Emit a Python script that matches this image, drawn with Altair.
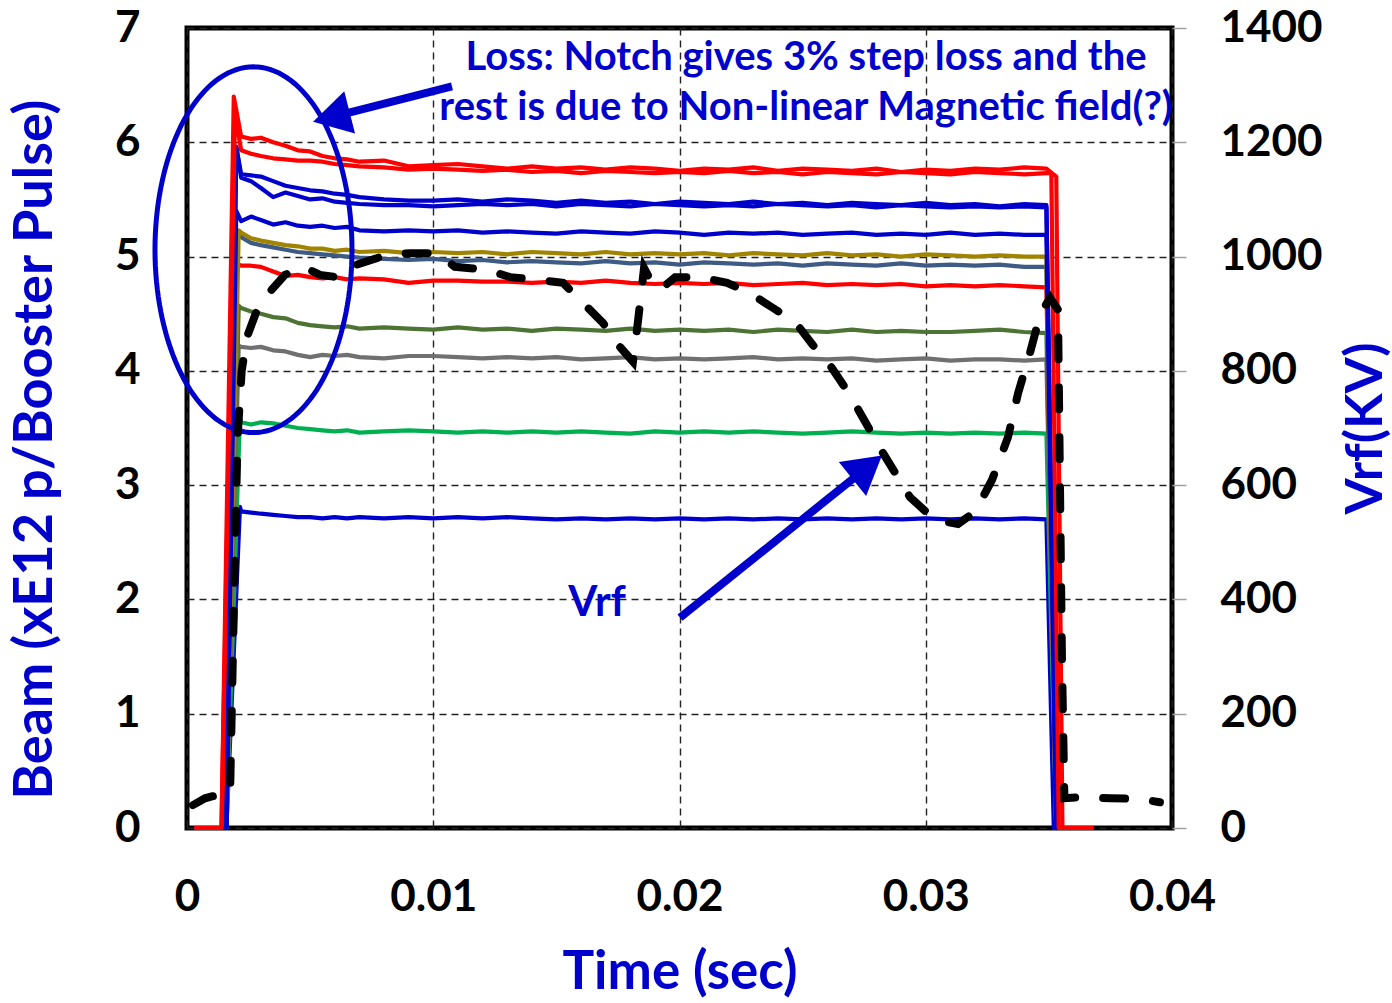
import math
import numpy as np
import pandas as pd
import altair as alt

# ---------------------------------------------------------------- data
T_DOMAIN = [0, 0.04]
BEAM_DOMAIN = [0, 7]
VRF_DOMAIN = [0, 1400]

T_TICKS = [0, 0.01, 0.02, 0.03, 0.04]
BEAM_TICKS = [0, 1, 2, 3, 4, 5, 6, 7]
VRF_TICKS = [0, 200, 400, 600, 800, 1000, 1200, 1400]

# common sample times along the flat top of the beam traces (sec)
T_FLAT = [0.0022, 0.0026, 0.003, 0.0035, 0.004, 0.0045, 0.005, 0.0055, 0.006, 0.0065, 0.007,
          0.008, 0.009, 0.010, 0.011, 0.012, 0.013, 0.014, 0.015, 0.016, 0.017, 0.018, 0.019,
          0.020, 0.021, 0.022, 0.023, 0.024, 0.025, 0.026, 0.027, 0.028, 0.029, 0.030, 0.031,
          0.032, 0.033, 0.034, 0.0349]

# beam intensity on the flat top (xE12 p / Booster pulse)
FLAT_RED_A = [6.05, 6.03, 6.04, 6.00, 5.97, 5.93, 5.92, 5.88, 5.86, 5.85, 5.83,
              5.84, 5.79, 5.80, 5.81, 5.79, 5.77, 5.79, 5.77, 5.78, 5.76, 5.78, 5.77, 5.75, 5.77,
              5.76, 5.78, 5.75, 5.77, 5.76, 5.75, 5.77, 5.74, 5.76, 5.75, 5.77, 5.76, 5.78, 5.77]
FLAT_RED_B = [5.93, 5.90, 5.88, 5.86, 5.85, 5.84, 5.84, 5.83, 5.81, 5.80, 5.79,
              5.78, 5.76, 5.77, 5.76, 5.75, 5.76, 5.74, 5.75, 5.73, 5.75, 5.74, 5.73, 5.74, 5.73,
              5.75, 5.73, 5.74, 5.72, 5.74, 5.73, 5.72, 5.74, 5.73, 5.72, 5.74, 5.73, 5.72, 5.73]
FLAT_BLUE_C = [5.72, 5.71, 5.70, 5.66, 5.62, 5.60, 5.58, 5.57, 5.55, 5.54, 5.52,
               5.50, 5.49, 5.49, 5.50, 5.48, 5.50, 5.49, 5.47, 5.49, 5.47, 5.48, 5.46, 5.48, 5.47,
               5.46, 5.48, 5.46, 5.47, 5.45, 5.47, 5.46, 5.45, 5.47, 5.45, 5.46, 5.44, 5.46, 5.45]
FLAT_BLUE_D = [5.69, 5.66, 5.60, 5.52, 5.56, 5.53, 5.50, 5.51, 5.48, 5.47, 5.46,
               5.45, 5.45, 5.44, 5.45, 5.46, 5.45, 5.46, 5.44, 5.46, 5.45, 5.44, 5.46, 5.45, 5.44,
               5.45, 5.44, 5.46, 5.45, 5.44, 5.45, 5.43, 5.45, 5.44, 5.43, 5.44, 5.43, 5.44, 5.43]
FLAT_BLUE_E = [5.31, 5.35, 5.32, 5.28, 5.30, 5.27, 5.26, 5.27, 5.25, 5.26, 5.23,
               5.22, 5.23, 5.22, 5.23, 5.21, 5.22, 5.21, 5.20, 5.22, 5.21, 5.20, 5.22, 5.21, 5.19,
               5.21, 5.20, 5.21, 5.19, 5.20, 5.21, 5.19, 5.20, 5.19, 5.21, 5.19, 5.20, 5.19, 5.19]
FLAT_OLIVE = [5.21, 5.16, 5.14, 5.12, 5.10, 5.09, 5.07, 5.07, 5.05, 5.06, 5.04,
              5.05, 5.03, 5.04, 5.03, 5.04, 5.02, 5.04, 5.03, 5.02, 5.04, 5.02, 5.03, 5.02, 5.03,
              5.01, 5.03, 5.02, 5.01, 5.03, 5.01, 5.02, 5.00, 5.02, 5.01, 5.00, 5.01, 5.00, 5.00]
FLAT_SLATE = [5.17, 5.12, 5.10, 5.08, 5.06, 5.04, 5.03, 5.02, 5.01, 5.00, 4.99,
              4.98, 4.97, 4.98, 4.96, 4.97, 4.95, 4.96, 4.95, 4.94, 4.96, 4.94, 4.95, 4.93, 4.95,
              4.94, 4.93, 4.94, 4.92, 4.94, 4.93, 4.92, 4.94, 4.92, 4.93, 4.92, 4.93, 4.91, 4.91]
FLAT_RED_H = [4.92, 4.92, 4.91, 4.87, 4.83, 4.84, 4.82, 4.81, 4.82, 4.80, 4.81,
              4.80, 4.77, 4.79, 4.79, 4.78, 4.78, 4.77, 4.78, 4.77, 4.79, 4.77, 4.76, 4.77, 4.76,
              4.77, 4.75, 4.76, 4.77, 4.75, 4.76, 4.75, 4.76, 4.74, 4.75, 4.74, 4.75, 4.74, 4.73]
FLAT_DKGREEN = [4.55, 4.52, 4.50, 4.47, 4.46, 4.42, 4.40, 4.39, 4.38, 4.39, 4.37,
                4.38, 4.37, 4.36, 4.38, 4.36, 4.37, 4.35, 4.37, 4.36, 4.35, 4.37, 4.35, 4.36, 4.35,
                4.36, 4.34, 4.36, 4.35, 4.34, 4.36, 4.34, 4.35, 4.34, 4.34, 4.35, 4.36, 4.34, 4.33]
FLAT_GRAY = [4.21, 4.20, 4.21, 4.18, 4.17, 4.14, 4.12, 4.14, 4.13, 4.14, 4.12,
             4.11, 4.13, 4.13, 4.12, 4.11, 4.12, 4.11, 4.12, 4.10, 4.11, 4.12, 4.10, 4.11, 4.10,
             4.11, 4.12, 4.10, 4.11, 4.10, 4.11, 4.09, 4.10, 4.11, 4.09, 4.10, 4.10, 4.09, 4.10]
FLAT_GREEN = [3.55, 3.53, 3.55, 3.54, 3.52, 3.50, 3.49, 3.48, 3.47, 3.48, 3.46,
              3.47, 3.48, 3.47, 3.46, 3.47, 3.46, 3.47, 3.46, 3.47, 3.46, 3.45, 3.47, 3.46, 3.47,
              3.46, 3.47, 3.46, 3.45, 3.46, 3.47, 3.46, 3.45, 3.46, 3.45, 3.46, 3.45, 3.46, 3.45]
FLAT_BLUE_L = [2.77, 2.76, 2.75, 2.74, 2.73, 2.72, 2.72, 2.71, 2.72, 2.71, 2.72,
               2.71, 2.72, 2.71, 2.72, 2.71, 2.72, 2.71, 2.70, 2.71, 2.70, 2.71, 2.70, 2.71, 2.70,
               2.71, 2.70, 2.71, 2.70, 2.71, 2.70, 2.71, 2.70, 2.71, 2.70, 2.71, 2.70, 2.71, 2.70]

# traces listed from back to front
TRACE_NAMES = ["blue_l", "green", "gray", "dkgreen", "red_h", "slate",
               "olive", "blue_e", "blue_d", "blue_c", "red_b", "red_a"]
TRACE_COLORS = ["#0000CC", "#00B050", "#707070", "#4E7435", "#FF0000", "#3D5B85",
                "#A08400", "#0000CC", "#0000CC", "#0000CC", "#FF0000", "#FF0000"]
TRACE_FLAT = [FLAT_BLUE_L, FLAT_GREEN, FLAT_GRAY, FLAT_DKGREEN, FLAT_RED_H, FLAT_SLATE,
              FLAT_OLIVE, FLAT_BLUE_E, FLAT_BLUE_D, FLAT_BLUE_C, FLAT_RED_B, FLAT_RED_A]
TRACE_RISE = [0.0016, 0.0016, 0.0016, 0.0016, 0.0015, 0.0016,
              0.0016, 0.0016, 0.0016, 0.0016, 0.0014, 0.0014]
TRACE_PEAK_T = [0.00215, 0.00215, 0.0021, 0.0021, 0.0019, 0.0020,
                0.0021, 0.0020, 0.0020, 0.0020, 0.00195, 0.0019]
TRACE_PEAK_V = [2.81, 3.60, 4.22, 4.57, 4.95, 5.21,
                5.23, 5.40, 5.96, 5.96, 6.25, 6.40]
TRACE_END_T = [None, None, None, None, None, None,
               None, None, None, None, 0.0351, 0.0353]
TRACE_END_V = [None, None, None, None, None, None,
               None, None, None, None, 5.73, 5.70]
TRACE_ZERO_T = [0.0352, 0.0353, 0.0353, 0.0353, 0.0353, 0.0353,
                0.0353, 0.0353, 0.0353, 0.0353, 0.0354, 0.03555]
T_START = 0.0003
T_STOP = 0.0368

# RF voltage (kV), right axis
VRF_T = [0.00024, 0.00073, 0.00126, 0.00175, 0.00190, 0.00205, 0.00222, 0.00244, 0.00284, 0.00325,
         0.00398, 0.00471, 0.0054, 0.00609, 0.00662, 0.00812, 0.00906, 0.01015, 0.01088, 0.01218,
         0.01312, 0.01434, 0.01527, 0.01608, 0.01689, 0.01758, 0.01811, 0.01832, 0.01856, 0.01888,
         0.01921, 0.01982, 0.02083, 0.02193, 0.02286, 0.0238, 0.02469, 0.02542, 0.02611, 0.02692,
         0.02814, 0.02936, 0.03038, 0.03131, 0.032, 0.03269, 0.03334, 0.03375, 0.03423, 0.03464,
         0.03505, 0.03537, 0.03553, 0.03563, 0.03626, 0.03748, 0.0387, 0.03951]
VRF_KV = [40, 52, 58, 61, 380, 680, 800, 860, 906, 933,
          968, 982, 968, 964, 982, 1003, 1006, 1006, 982, 977,
          964, 959, 954, 919, 884, 842, 816, 889, 980, 954,
          942, 964, 964, 954, 936, 910, 886, 845, 810, 758,
          665, 579, 539, 532, 553, 609, 684, 761, 831, 898,
          928, 907, 300, 52, 54, 52, 51, 45]

# annotations (positions in time / beam units)
NOTE_LINES = ["Loss: Notch gives 3% step loss and the",
              "rest is due to Non-linear Magnetic field(?)"]
NOTE_T = [0.02514, 0.02514]
NOTE_V = [6.74, 6.30]
VRF_LABEL = "Vrf"
VRF_LABEL_T = 0.01665
VRF_LABEL_V = 1.97
ARROW_TAIL = [(0.01076, 6.49), (0.02002, 1.84)]
ARROW_TIP = [(0.00512, 6.18), (0.02822, 3.26)]
RING_CENTER = (0.00270, 5.06)
RING_RADII = (0.00400, 1.60)

# ---------------------------------------------------------------- layout / style
W, H = 985, 800
PAD = {"left": 187, "top": 28, "right": 220, "bottom": 175}
PX_T = W / (T_DOMAIN[1] - T_DOMAIN[0])
PX_V = H / (BEAM_DOMAIN[1] - BEAM_DOMAIN[0])
FONT = "Lato"
NAVY = "#0000CC"
HEAD_SIZE = 1900

# ---------------------------------------------------------------- tables
rows = []
for name, flat, rise, pt, pv, et, ev, zt in zip(TRACE_NAMES, TRACE_FLAT, TRACE_RISE, TRACE_PEAK_T,
                                                TRACE_PEAK_V, TRACE_END_T, TRACE_END_V, TRACE_ZERO_T):
    assert len(flat) == len(T_FLAT), name
    pts = [(T_START, 0.0), (rise, 0.0), (pt, pv)] + list(zip(T_FLAT, flat))
    if et is not None:
        pts.append((et, ev))
    pts += [(zt, 0.0), (T_STOP, 0.0)]
    for i, (t, v) in enumerate(pts):
        rows.append({"trace": name, "i": i, "t": t, "v": v})
beam_df = pd.DataFrame(rows)

assert len(VRF_T) == len(VRF_KV)
vrf_df = pd.DataFrame({"t": VRF_T, "kv": VRF_KV, "i": range(len(VRF_T))})

note_df = pd.DataFrame({"t": NOTE_T, "v": NOTE_V, "label": NOTE_LINES})
vrf_label_df = pd.DataFrame({"t": [VRF_LABEL_T], "v": [VRF_LABEL_V], "label": [VRF_LABEL]})

ang = np.linspace(0, 2 * np.pi, 145)
ring_df = pd.DataFrame({"t": RING_CENTER[0] + RING_RADII[0] * np.cos(ang),
                        "v": RING_CENTER[1] + RING_RADII[1] * np.sin(ang),
                        "i": range(len(ang))})

# arrow shafts and heads, built in screen-space so the head points along the shaft
half_h = (math.sqrt(3) / 2) * (math.sqrt(HEAD_SIZE) / 2)
shaft_rows, head_rows = [], []
for k, ((t0, v0), (t1, v1)) in enumerate(zip(ARROW_TAIL, ARROW_TIP)):
    dx = (t1 - t0) * PX_T
    dy = -(v1 - v0) * PX_V
    L = math.hypot(dx, dy)
    ux, uy = dx / L, dy / L
    angle = math.degrees(math.atan2(ux, -uy)) % 360
    # centre of the triangle and a point just inside its base
    ct, cv = t1 - ux * half_h / PX_T, v1 + uy * half_h / PX_V
    bt, bv = t1 - ux * 1.7 * half_h / PX_T, v1 + uy * 1.7 * half_h / PX_V
    shaft_rows += [{"arrow": k, "i": 0, "t": t0, "v": v0}, {"arrow": k, "i": 1, "t": bt, "v": bv}]
    head_rows.append({"arrow": k, "t": ct, "v": cv, "angle": angle})
shaft_df = pd.DataFrame(shaft_rows)
head_df = pd.DataFrame(head_rows)

# ---------------------------------------------------------------- axes
GRID = dict(grid=True, gridColor="#222222", gridDash=[7, 5], gridWidth=1.4)
LABELS = dict(labelFont=FONT, labelFontSize=44, labelFontWeight="bold", labelColor="#000000",
              labelFlush=False, labelOverlap=False)
TITLES = dict(titleFont=FONT, titleFontWeight="bold", titleColor=NAVY)

ax_x = alt.Axis(values=T_TICKS, format=".2~f", ticks=False, domain=False, labelPadding=47,
                titleX=W / 2, titleY=144, titleBaseline="middle", titleFontSize=53,
                **GRID, **LABELS, **TITLES)
ax_beam = alt.Axis(values=BEAM_TICKS, ticks=False, domain=False, labelPadding=47,
                   titleAngle=270, titleX=-152, titleY=421, titleBaseline="middle",
                   titleFontSize=54, **GRID, **LABELS, **TITLES)
ax_vrf = alt.Axis(orient="right", values=VRF_TICKS, format="d", grid=False, domain=False,
                  ticks=True, tickSize=14, tickColor="#A0A0A0", tickWidth=1.5, labelPadding=34,
                  titleAngle=270, titleX=193, titleY=400, titleBaseline="middle",
                  titleFontSize=52, **LABELS, **TITLES)

X = alt.X("t:Q", scale=alt.Scale(domain=T_DOMAIN, nice=False, zero=False), axis=ax_x,
          title="Time (sec)")
Y_BEAM = alt.Y("v:Q", scale=alt.Scale(domain=BEAM_DOMAIN, nice=False), axis=ax_beam,
               title="Beam (xE12 p/Booster Pulse)")

# ---------------------------------------------------------------- layers
beams = alt.Chart(beam_df).mark_line(strokeWidth=4.2, strokeJoin="round").encode(
    x=X, y=Y_BEAM,
    color=alt.Color("trace:N", scale=alt.Scale(domain=TRACE_NAMES, range=TRACE_COLORS), legend=None),
    order="i:Q",
)

ring = alt.Chart(ring_df).mark_line(color=NAVY, strokeWidth=5, clip=False).encode(
    x=X, y=Y_BEAM, order="i:Q")

shafts = alt.Chart(shaft_df).mark_line(color=NAVY, strokeWidth=8).encode(
    x=X, y=Y_BEAM, detail="arrow:N", order="i:Q")

heads = alt.Chart(head_df).mark_point(shape="triangle-up", filled=True, size=HEAD_SIZE,
                                       color=NAVY, opacity=1).encode(
    x=X, y=Y_BEAM, angle=alt.Angle("angle:Q", scale=None))

notes = alt.Chart(note_df).mark_text(font=FONT, fontWeight="bold", fontSize=40, color=NAVY,
                                     align="center", baseline="middle").encode(
    x=X, y=Y_BEAM, text="label:N")

vrf_label = alt.Chart(vrf_label_df).mark_text(font=FONT, fontWeight="bold", fontSize=42,
                                              color=NAVY, align="center",
                                              baseline="middle").encode(
    x=X, y=Y_BEAM, text="label:N")

beam_side = alt.layer(beams, ring, shafts, heads, notes, vrf_label)

vrf = alt.Chart(vrf_df).mark_line(color="#000000", strokeWidth=8, strokeDash=[22, 28],
                                  strokeCap="round").encode(
    x=X,
    y=alt.Y("kv:Q", scale=alt.Scale(domain=VRF_DOMAIN, nice=False), axis=ax_vrf,
            title="Vrf(KV)"),
    order="i:Q",
)

chart = (
    alt.layer(beam_side, vrf)
    .resolve_scale(y="independent")
    .properties(width=W, height=H, padding=PAD, background="#FFFFFF",
                autosize=alt.AutoSizeParams(type="none"))
    .configure_view(stroke="#000000", strokeWidth=5)
)

chart.save("out.html", embed_options={"renderer": "svg", "actions": False})
